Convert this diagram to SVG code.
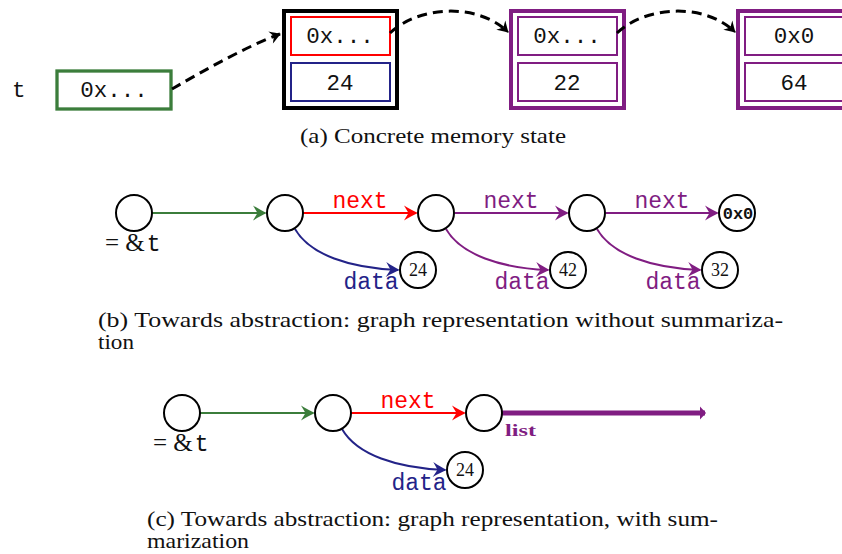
<svg xmlns="http://www.w3.org/2000/svg" width="842" height="554" viewBox="0 0 842 554">
<style>
.mono{font-family:"Liberation Mono","DejaVu Sans Mono",monospace;}
.serif{font-family:"Liberation Serif","DejaVu Serif",serif;}
.cap{font-family:"Liberation Serif","DejaVu Serif",serif;font-size:21px;fill:#111;}
.boxtxt{font-family:"Liberation Mono","DejaVu Sans Mono",monospace;font-size:22.5px;fill:#111;text-anchor:middle;}
.node{fill:#fff;stroke:#000;stroke-width:2;}
.edge{fill:none;stroke-width:2;}
.lbl{font-family:"Liberation Mono","DejaVu Sans Mono",monospace;font-size:23px;text-anchor:middle;}
.num{font-family:"Liberation Serif","DejaVu Serif",serif;font-size:18px;text-anchor:middle;fill:#111;}
.dash{fill:none;stroke:#000;stroke-width:3;stroke-dasharray:10 6;}
</style>
<defs>
<marker id="aG" markerUnits="userSpaceOnUse" viewBox="-16 -9 18 18" refX="-2" refY="0" markerWidth="18" markerHeight="18" orient="auto"><path d="M0,0 C-4,-1.5 -9,-4.5 -14,-7.5 L-9.5,0 L-14,7.5 C-9,4.5 -4,1.5 0,0 Z" fill="#3b7d3b"/></marker>
<marker id="aR" markerUnits="userSpaceOnUse" viewBox="-16 -9 18 18" refX="-2" refY="0" markerWidth="18" markerHeight="18" orient="auto"><path d="M0,0 C-4,-1.5 -9,-4.5 -14,-7.5 L-9.5,0 L-14,7.5 C-9,4.5 -4,1.5 0,0 Z" fill="#ff0000"/></marker>
<marker id="aP" markerUnits="userSpaceOnUse" viewBox="-16 -9 18 18" refX="-2" refY="0" markerWidth="18" markerHeight="18" orient="auto"><path d="M0,0 C-4,-1.5 -9,-4.5 -14,-7.5 L-9.5,0 L-14,7.5 C-9,4.5 -4,1.5 0,0 Z" fill="#801d82"/></marker>
<marker id="aB" markerUnits="userSpaceOnUse" viewBox="-16 -9 18 18" refX="-2" refY="0" markerWidth="18" markerHeight="18" orient="auto"><path d="M0,0 C-4,-1.5 -9,-4.5 -14,-7.5 L-9.5,0 L-14,7.5 C-9,4.5 -4,1.5 0,0 Z" fill="#232388"/></marker>
<marker id="aK" markerUnits="userSpaceOnUse" viewBox="-14 -8 16 16" refX="-1" refY="0" markerWidth="16" markerHeight="16" orient="auto"><path d="M0,0 C-3,-1.5 -7,-4 -11,-6.5 L-7.5,0 L-11,6.5 C-7,4 -3,1.5 0,0 Z" fill="#000"/></marker>
<marker id="aL" markerUnits="userSpaceOnUse" viewBox="-8 -8 10 16" refX="-1" refY="0" markerWidth="10" markerHeight="16" orient="auto"><path d="M0,0 L-6,-6.5 L-6,6.5 Z" fill="#801d82"/></marker>
</defs>

<!-- (a) Concrete memory state -->
<g id="a-t"><text class="mono" x="12" y="97" font-size="22.5" fill="#111">t</text></g>
<g id="a-ptr">
<rect x="57" y="71" width="114" height="38" fill="#fff" stroke="#3b7d3b" stroke-width="3.3"/>
<text class="boxtxt" x="114" y="97">0x...</text>
</g>
<g id="a-cell1">
<rect x="284" y="11" width="113" height="97" fill="#fff" stroke="#000" stroke-width="4"/>
<rect x="291" y="17" width="99" height="38" fill="#fff" stroke="#ff0000" stroke-width="2"/>
<rect x="291" y="63" width="99" height="38" fill="#fff" stroke="#232388" stroke-width="2"/>
<text class="boxtxt" x="340" y="43">0x...</text>
<text class="boxtxt" x="340" y="90">24</text>
</g>
<g id="a-cell2">
<rect x="511" y="11" width="113" height="97" fill="#fff" stroke="#801d82" stroke-width="4"/>
<rect x="518" y="17" width="99" height="38" fill="#fff" stroke="#801d82" stroke-width="2"/>
<rect x="518" y="63" width="99" height="38" fill="#fff" stroke="#801d82" stroke-width="2"/>
<text class="boxtxt" x="567" y="43">0x...</text>
<text class="boxtxt" x="567" y="90">22</text>
</g>
<g id="a-cell3">
<rect x="738" y="11" width="113" height="97" fill="#fff" stroke="#801d82" stroke-width="4"/>
<rect x="745" y="17" width="99" height="38" fill="#fff" stroke="#801d82" stroke-width="2"/>
<rect x="745" y="63" width="99" height="38" fill="#fff" stroke="#801d82" stroke-width="2"/>
<text class="boxtxt" x="794" y="43">0x0</text>
<text class="boxtxt" x="794" y="90">64</text>
</g>
<g id="a-connectors">
<path class="dash" d="M172,89 C205,70 245,47 280,34" marker-end="url(#aK)"/>
<path class="dash" d="M390,33 C420,5 478,3 508,32" marker-end="url(#aK)"/>
<path class="dash" d="M617,33 C647,5 705,3 735,32" marker-end="url(#aK)"/>
</g>
<text class="cap" x="300" y="143" textLength="266" lengthAdjust="spacingAndGlyphs">(a) Concrete memory state</text>

<!-- (b) graph without summarization -->
<g id="b-connectors">
<path class="edge" stroke="#3b7d3b" d="M152,213 L265,213" marker-end="url(#aG)"/>
<path class="edge" stroke="#ff0000" d="M303,213 L416,213" marker-end="url(#aR)"/>
<path class="edge" stroke="#801d82" d="M455,213 L567,213" marker-end="url(#aP)"/>
<path class="edge" stroke="#801d82" d="M606,213 L717,213" marker-end="url(#aP)"/>
<path class="edge" stroke="#232388" d="M295,229 C310,255 350,268 398,270" marker-end="url(#aB)"/>
<path class="edge" stroke="#801d82" d="M446,229 C461,255 501,268 548,270" marker-end="url(#aP)"/>
<path class="edge" stroke="#801d82" d="M597,229 C612,255 652,268 700,270" marker-end="url(#aP)"/>
<text class="lbl" x="360" y="208" fill="#ff0000">next</text>
<text class="lbl" x="511" y="208" fill="#801d82">next</text>
<text class="lbl" x="662" y="208" fill="#801d82">next</text>
<text class="lbl" x="371" y="289" fill="#232388">data</text>
<text class="lbl" x="522" y="289" fill="#801d82">data</text>
<text class="lbl" x="673" y="289" fill="#801d82">data</text>
</g>
<g id="b-n1"><circle class="node" cx="134" cy="213" r="18"/>
<text x="105" y="251" font-size="23" fill="#111"><tspan class="serif" font-size="25">= &amp;</tspan><tspan class="mono" font-size="23" dx="2">t</tspan></text></g>
<g id="b-n2"><circle class="node" cx="285" cy="213" r="18"/></g>
<g id="b-n3"><circle class="node" cx="436" cy="213" r="18"/></g>
<g id="b-n4"><circle class="node" cx="587" cy="213" r="18"/></g>
<g id="b-n5"><circle class="node" cx="737" cy="213" r="18"/>
<text class="mono" x="738" y="219" font-size="17" font-weight="bold" text-anchor="middle" fill="#111">0x0</text></g>
<g id="b-d1"><circle class="node" cx="418" cy="270" r="18"/><text class="num" x="418" y="276">24</text></g>
<g id="b-d2"><circle class="node" cx="568" cy="270" r="18"/><text class="num" x="568" y="276">42</text></g>
<g id="b-d3"><circle class="node" cx="720" cy="270" r="18"/><text class="num" x="720" y="276">32</text></g>
<text class="cap" x="98" y="327" textLength="685" lengthAdjust="spacingAndGlyphs">(b) Towards abstraction: graph representation without summariza-</text>
<text class="cap" x="98" y="349" textLength="36" lengthAdjust="spacingAndGlyphs">tion</text>

<!-- (c) graph with summarization -->
<g id="c-connectors">
<path class="edge" stroke="#3b7d3b" d="M200,413 L313,413" marker-end="url(#aG)"/>
<path class="edge" stroke="#ff0000" d="M351,413 L464,413" marker-end="url(#aR)"/>
<path class="edge" stroke="#232388" d="M342,429 C357,455 397,468 445,470" marker-end="url(#aB)"/>
<path fill="none" stroke="#801d82" stroke-width="5" d="M502,413 L705,413" marker-end="url(#aL)"/>
<text class="lbl" x="408" y="408" fill="#ff0000">next</text>
<text class="lbl" x="419" y="490" fill="#232388">data</text>
<text class="serif" x="505" y="436" font-size="17" font-weight="bold" fill="#801d82" textLength="31" lengthAdjust="spacingAndGlyphs">list</text>
</g>
<g id="c-n1"><circle class="node" cx="182" cy="413" r="18"/>
<text x="153" y="451" font-size="23" fill="#111"><tspan class="serif" font-size="25">= &amp;</tspan><tspan class="mono" font-size="23" dx="2">t</tspan></text></g>
<g id="c-n2"><circle class="node" cx="333" cy="413" r="18"/></g>
<g id="c-n3"><circle class="node" cx="484" cy="413" r="18"/></g>
<g id="c-d1"><circle class="node" cx="465" cy="470" r="18"/><text class="num" x="465" y="476">24</text></g>
<text class="cap" x="147" y="526" textLength="571" lengthAdjust="spacingAndGlyphs">(c) Towards abstraction: graph representation, with sum-</text>
<text class="cap" x="147" y="548" textLength="102" lengthAdjust="spacingAndGlyphs">marization</text>
</svg>
